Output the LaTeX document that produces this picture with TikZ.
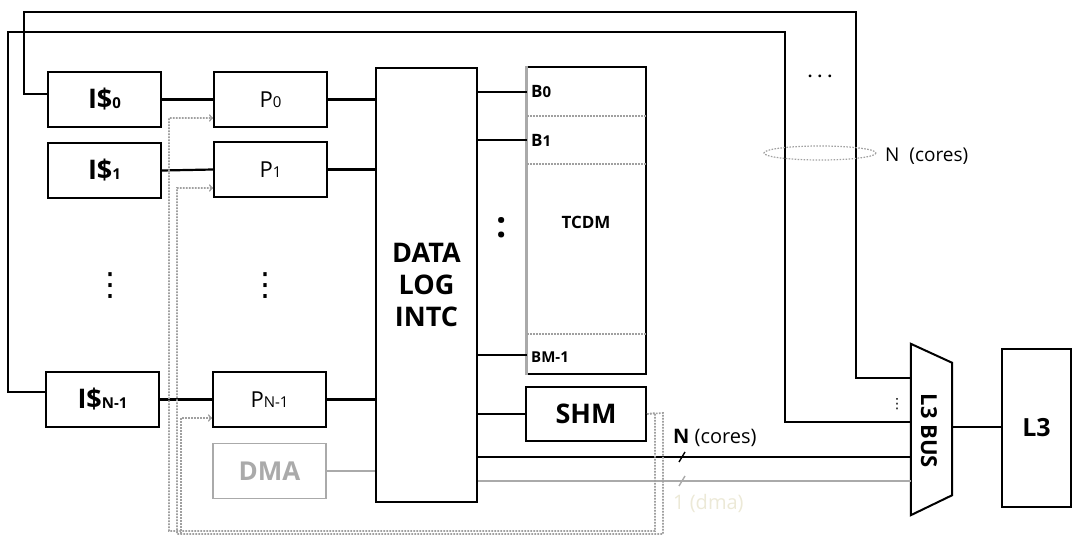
\documentclass[tikz,border=0pt]{standalone}
\usepackage{fontspec}
\setmainfont{Open Sans}
\newfontfamily\symfont{DejaVu Sans}
\usetikzlibrary{positioning}
\definecolor{dotgray}{RGB}{160,160,160}
\definecolor{dmagray}{RGB}{170,170,170}
\definecolor{faint}{RGB}{236,233,215}
\newcommand{\subtxt}[1]{{\fontsize{15}{15}\selectfont #1}}

\begin{document}
\begin{tikzpicture}[x=1pt,y=-1pt,
    blk/.style={draw, line width=2.4pt, minimum width=113pt, minimum height=55pt, inner sep=0pt, font=\bfseries\fontsize{27}{27}\selectfont},
    core/.style={draw, line width=1.8pt, minimum width=113pt, minimum height=55pt, inner sep=0pt, font=\fontsize{22}{22}\selectfont},
    wire/.style={line width=2.2pt},
    dotline/.style={dotgray, line width=1.6pt, dash pattern=on 1.6pt off 1.4pt},
    vdots/.style={inner sep=0pt, font=\symfont\fontsize{32}{32}\selectfont}]
    \useasboundingbox (0,0) rectangle (1072,535);
    % Instruction caches
    \node[blk] (ic0) at (104.5,99.5) {I\$\subtxt{0}};
    \node[blk] (ic1) at (104.5,170.5) {I\$\subtxt{1}};
    \node[blk] (icn) at (102.5,399.5) {I\$\subtxt{N-1}};
    % Cores
    \node[core] (p0) at (270.5,99.5) {P\subtxt{0}};
    \node[core] (p1) at (270.5,169.5) {P\subtxt{1}};
    \node[core] (pn) at (269.5,399.5) {P\subtxt{N-1}};
    \node[core, dmagray, font=\bfseries\fontsize{26}{26}\selectfont] (dma) at (269.5,471) {DMA};
    % Interconnect and memories
    \node[draw, line width=1.8pt, minimum width=101pt, minimum height=434pt, align=center,
        font=\bfseries\fontsize{27}{32}\selectfont] (intc) at (426.5,285) {DATA\\LOG\\INTC};
    \node[draw, line width=2pt, minimum width=119pt, minimum height=307pt] (tcdm) at (586.5,220.5) {};
    \draw[dmagray, line width=3pt] (tcdm.south west) -- (tcdm.north west);
    \node[font=\bfseries\fontsize{17}{17}\selectfont] (tcdmlbl) at (586,222) {TCDM};
    \node[blk, minimum width=120pt, minimum height=54pt, line width=2pt] (shm) at (586,414) {SHM};
    % Banks
    \coordinate (b0) at (527,92);
    \coordinate (b1) at (527,140);
    \coordinate (bm) at (527,355);
    \node[right, font=\bfseries\fontsize{17}{17}\selectfont, inner sep=0pt] (b0lbl) at (531,92) {B\subtxt{0}};
    \node[right, font=\bfseries\fontsize{17}{17}\selectfont, inner sep=0pt] (b1lbl) at (531,140) {B\subtxt{1}};
    \node[right, font=\bfseries\fontsize{15}{15}\selectfont, inner sep=0pt] (bmlbl) at (531,357) {B\subtxt{M-1}};
    \foreach \yy in {116,164,334}
        \draw[dotline, line width=1.2pt] (527,\yy) -- (646,\yy);
    % L3 bus and L3
    \node[minimum width=41pt, minimum height=171pt, inner sep=0pt] (bus) at (931.5,429.5) {};
    \draw[line width=2pt] (bus.north west) -- ([yshift=-19pt]bus.north east)
        -- ([yshift=20pt]bus.south east) -- (bus.south west) -- cycle;
    \node[rotate=-90, font=\bfseries\fontsize{22}{22}\selectfont] (buslbl) at (929,431) {L3 BUS};
    \node[draw, line width=2pt, minimum width=69pt, minimum height=158pt, inner sep=0pt,
        font=\bfseries\fontsize{25}{25}\selectfont] (l3) at (1036.5,428) {L3};
    % Connections
    \draw[wire] (ic0.east) -- (p0.west);
    \draw[wire] (ic1.east) -- (p1.west);
    \draw[wire] (icn.east) -- (pn.west);
    \draw[wire] (p0.east) -- (p0.east -| intc.west);
    \draw[wire] (p1.east) -- (p1.east -| intc.west);
    \draw[wire] (pn.east) -- (pn.east -| intc.west);
    \draw[wire, dmagray] (dma.east) -- (dma.east -| intc.west);
    \draw[wire] (intc.east |- b0) -- (b0);
    \draw[wire] (intc.east |- b1) -- (b1);
    \draw[wire] (intc.east |- bm) -- (bm);
    \draw[wire] (intc.east |- shm.west) -- (shm.west);
    \draw[wire] (intc.east |- 0,457) -- (bus.west |- 0,457);
    \draw[wire, dmagray] (intc.east |- 0,481) -- (bus.west |- 0,481);
    \draw[wire] (bus.east |- 0,427) -- (l3.west |- 0,427);
    \draw[wire] ([yshift=5.5pt]ic0.west) -- ++(-23,0) |- (856,12) |- (bus.west |- 0,378);
    \draw[wire] ([yshift=7.5pt]icn.west) -- ++(-37,0) |- (785,32) |- (bus.west |- 0,422);
    % DMA paths
    \draw[dotline, ->] (shm.east) -- (655,413) -- (655,531) -- (169,531) -- (169,118) -- (p0.west |- 0,118);
    \draw[dotline, ->] (shm.east) -- (663,413) -- (663,534) -- (177,534) -- (177,188) -- (p1.west |- 0,188);
    \draw[dotline, ->] (181,534) -- (181,418) -- (pn.west |- 0,418);
    % Bus widths
    \draw[line width=1.4pt] (679,462) -- (685,452);
    \draw[line width=1.4pt, dmagray] (679,486) -- (685,476);
    \node[right, inner sep=0pt, font=\fontsize{20}{20}\selectfont] (ncores) at (673,438) {\textbf{N} (cores)};
    \node[right, inner sep=0pt, text=faint, font=\fontsize{20}{20}\selectfont] (ndma) at (673,503) {1 (dma)};
    % Top bundle
    \draw[dotline, line width=1.2pt] (820,153) ellipse (56 and 7);
    \node[right, inner sep=0pt, font=\fontsize{19}{19}\selectfont] (ntop) at (885,156) {N\ \ (cores)};
    \node[font=\bfseries\fontsize{16}{16}\selectfont] (dotstop) at (820,76) {.\,\,.\,\,.};
    % Vertical dots
    \node[vdots] (vd1) at (110,286) {⋮};
    \node[vdots] (vd2) at (265,286) {⋮};
    \node[font=\bfseries\fontsize{36}{36}\selectfont] (vd3) at (502,228) {:};
    \node[vdots, font=\symfont\fontsize{14}{14}\selectfont] (vd4) at (897,404) {⋮};
\end{tikzpicture}
\end{document}
